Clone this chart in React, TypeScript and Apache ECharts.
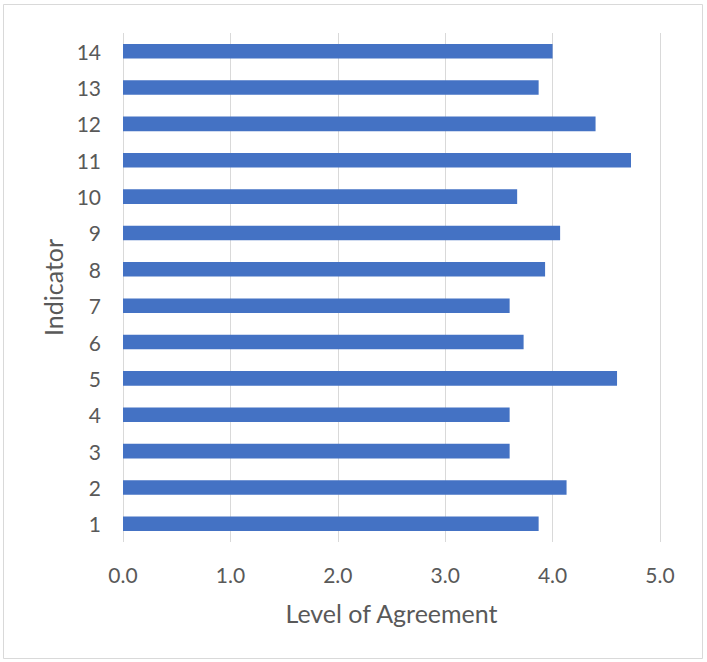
import React, { useEffect, useRef } from "react";
import * as echarts from "echarts";

// Indicators 1..14 (bottom to top) and their mean agreement scores
const indicators = ["1", "2", "3", "4", "5", "6", "7", "8", "9", "10", "11", "12", "13", "14"];
const agreement = [3.87, 4.13, 3.6, 3.6, 4.6, 3.73, 3.6, 3.93, 4.07, 3.67, 4.73, 4.4, 3.87, 4.0];

const xAxisTitle = "Level of Agreement";
const yAxisTitle = "Indicator";

const FONT = "Lato, 'Open Sans', sans-serif";
const TEXT = "#595959";
const GRID = "#D9D9D9";
const BAR = "#4472C4";

export default function App() {
  const ref = useRef<HTMLDivElement>(null);

  useEffect(() => {
    if (!ref.current) return;
    const chart = echarts.init(ref.current, undefined, { renderer: "svg" });
    chart.setOption({
      animation: false,
      backgroundColor: "#ffffff",
      textStyle: { fontFamily: FONT },
      graphic: [
        {
          type: "rect",
          shape: { x: 3.5, y: 4.5, width: 699, height: 654 },
          style: { fill: "none", stroke: GRID, lineWidth: 1 },
          silent: true,
          z: -1,
        },
      ],
      grid: { left: 123, right: 47, top: 33, bottom: 120 },
      xAxis: {
        type: "value",
        min: 0,
        max: 5,
        interval: 1,
        axisLine: { show: false },
        axisTick: { show: false },
        splitLine: { lineStyle: { color: GRID, width: 1 } },
        axisLabel: {
          color: TEXT,
          fontSize: 21,
          fontFamily: FONT,
          margin: 22,
          formatter: (v: number) => v.toFixed(1),
        },
        name: xAxisTitle,
        nameLocation: "middle",
        nameGap: 58,
        nameTextStyle: { color: TEXT, fontSize: 25, fontFamily: FONT },
      },
      yAxis: {
        type: "category",
        data: indicators,
        axisLine: { show: false },
        axisTick: { show: false },
        splitLine: { show: false },
        axisLabel: { color: TEXT, fontSize: 21, fontFamily: FONT, margin: 22 },
        name: yAxisTitle,
        nameLocation: "middle",
        nameRotate: 90,
        nameGap: 55,
        nameTextStyle: { color: TEXT, fontSize: 25, fontFamily: FONT },
      },
      series: [
        {
          type: "bar",
          data: agreement,
          barWidth: "40%",
          itemStyle: { color: BAR },
        },
      ],
    });
    return () => chart.dispose();
  }, []);

  return (
    <div
      ref={ref}
      style={{ position: "fixed", left: 0, top: 0, width: 707, height: 662 }}
    />
  );
}
